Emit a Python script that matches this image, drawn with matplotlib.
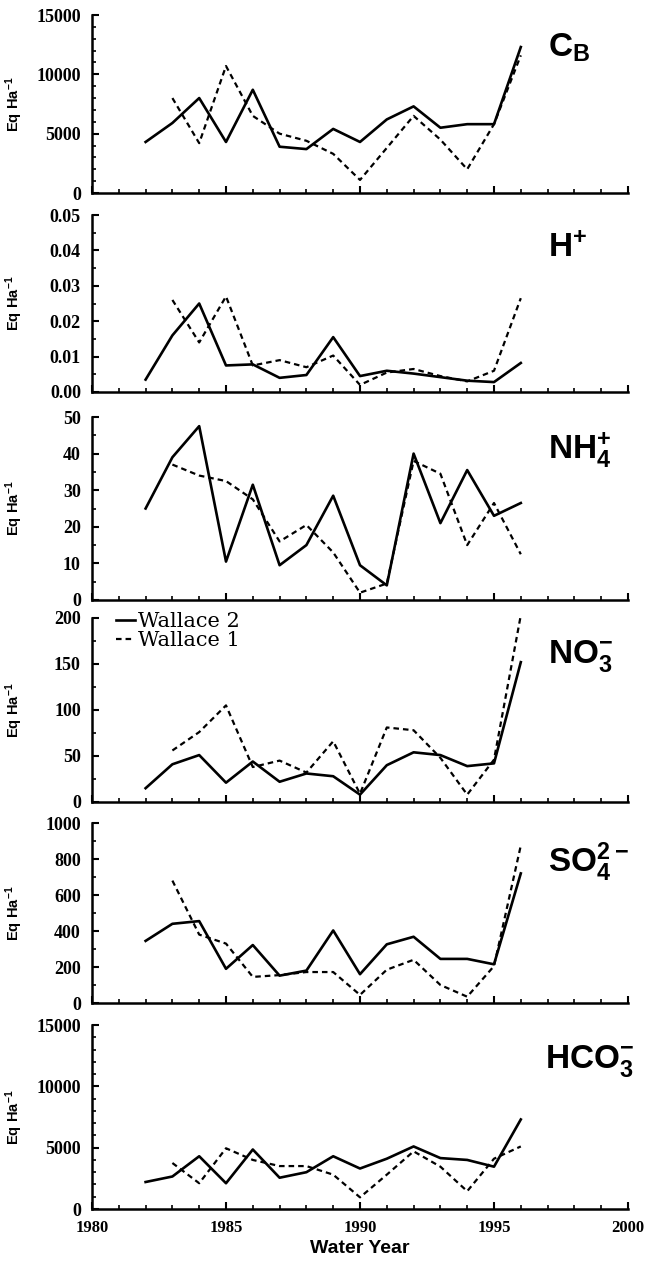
import numpy as np
import matplotlib.pyplot as plt
from matplotlib.ticker import MultipleLocator, FormatStrFormatter

plt.rcParams['mathtext.fontset'] = 'custom'
plt.rcParams['mathtext.rm'] = 'Liberation Sans'
plt.rcParams['mathtext.bf'] = 'Liberation Sans:bold'

# water years
years_w2 = [1982, 1983, 1984, 1985, 1986, 1987, 1988, 1989, 1990, 1991, 1992, 1993, 1994, 1995, 1996]
years_w1 = [1983, 1984, 1985, 1986, 1987, 1988, 1989, 1990, 1991, 1992, 1993, 1994, 1995, 1996]

# base cations
cb_w2 = [4300, 5900, 8000, 4300, 8700, 3900, 3700, 5400, 4300, 6200, 7300, 5500, 5800, 5800, 12300]
cb_w1 = [8000, 4200, 10700, 6500, 5000, 4400, 3300, 1100, 3800, 6500, 4500, 2000, 5800, 11600]

# H+
h_w2 = [0.0035, 0.016, 0.025, 0.0075, 0.0078, 0.004, 0.0048, 0.0155, 0.0045, 0.006, 0.0052, 0.0042, 0.0032, 0.0028, 0.0082]
h_w1 = [0.026, 0.014, 0.027, 0.0075, 0.009, 0.007, 0.0103, 0.002, 0.0055, 0.0065, 0.0045, 0.003, 0.006, 0.0265]

# NH4+
nh4_w2 = [25, 39, 47.5, 10.5, 31.5, 9.5, 15, 28.5, 9.5, 4, 40, 21, 35.5, 23, 26.5]
nh4_w1 = [37, 34, 32.5, 27.5, 16, 20.5, 13, 2, 4.5, 38, 34.5, 15, 26.5, 12.5]

# NO3-
no3_w2 = [15, 41, 51, 21, 44, 22, 31, 28, 8, 40, 54, 51, 39, 42, 152]
no3_w1 = [56, 76, 105, 38, 45, 32, 66, 9, 81, 78, 48, 8, 46, 203]

# SO4 2-
so4_w2 = [345, 440, 455, 190, 322, 152, 180, 403, 160, 326, 368, 245, 245, 215, 720]
so4_w1 = [680, 380, 330, 145, 155, 172, 172, 45, 185, 240, 100, 35, 205, 875]

# HCO3-
hco3_w2 = [2200, 2650, 4300, 2100, 4850, 2550, 3000, 4300, 3300, 4100, 5100, 4150, 4000, 3450, 7300]
hco3_w1 = [3750, 2100, 4950, 4000, 3500, 3500, 2800, 950, 2800, 4700, 3450, 1450, 4100, 5100]

labels = [r'$\mathbf{C_B}$', r'$\mathbf{H^{+}}$', r'$\mathbf{NH_4^{+}}$',
          r'$\mathbf{NO_3^{-}}$', r'$\mathbf{SO_4^{2-}}$', r'$\mathbf{HCO_3^{-}}$']
ymax = [15000, 0.05, 50, 200, 1000, 15000]
ymajor = [5000, 0.01, 10, 50, 200, 5000]
yminor = [1000, 0.005, 5, 25, 100, 1000]
yfmt = ['%d', '%.2f', '%d', '%d', '%d', '%d']
series = [(cb_w2, cb_w1), (h_w2, h_w1), (nh4_w2, nh4_w1),
          (no3_w2, no3_w1), (so4_w2, so4_w1), (hco3_w2, hco3_w1)]

# panel placement in pixels (top, bottom) and label baseline position in axes coords
W, H = 649, 1266
rows = [(15, 193), (215, 392), (417, 600), (618, 802), (823, 1003), (1025, 1209)]
label_xy = [(0.851, 0.764), (0.851, 0.763), (0.851, 0.77), (0.851, 0.755), (0.851, 0.728), (0.845, 0.766)]
left_px, right_px = 92, 628

fig = plt.figure(figsize=(W / 100, H / 100), dpi=100)
ytick_font = {'family': 'Liberation Serif', 'weight': 'bold', 'size': 13}
xtick_font = {'family': 'Liberation Serif', 'weight': 'bold', 'size': 12}

for i, (top, bot) in enumerate(rows):
    ax = fig.add_axes([left_px / W, 1 - bot / H, (right_px - left_px) / W, (bot - top) / H])
    w2, w1 = series[i]
    ax.plot(years_w2, w2, color='black', lw=1.9, label='Wallace 2', clip_on=False)
    ax.plot(years_w1, w1, color='black', lw=1.6, ls=(0, (2.5, 1.8)), label='Wallace 1', clip_on=False)
    ax.set_xlim(1980, 2000)
    ax.set_ylim(0, ymax[i])
    ax.xaxis.set_major_locator(MultipleLocator(5))
    ax.xaxis.set_minor_locator(MultipleLocator(1))
    ax.yaxis.set_major_locator(MultipleLocator(ymajor[i]))
    ax.yaxis.set_minor_locator(MultipleLocator(yminor[i]))
    ax.yaxis.set_major_formatter(FormatStrFormatter(yfmt[i]))
    for s in ['top', 'right']:
        ax.spines[s].set_visible(False)
    for s in ['left', 'bottom']:
        ax.spines[s].set_linewidth(1.8)
    ax.tick_params(which='major', direction='in', length=5, width=1.5, pad=8)
    ax.tick_params(which='minor', direction='in', length=3, width=1.2)
    for t in ax.get_yticklabels():
        t.set_fontproperties(ytick_font)
    if i < 5:
        ax.set_xticklabels([])
    else:
        for t in ax.get_xticklabels():
            t.set_fontproperties(xtick_font)
        ax.set_xlabel('Water Year', fontsize=14, fontweight='bold',
                      family='Liberation Sans', labelpad=3)
    ax.set_ylabel(r'$\mathbf{Eq\ Ha^{-1}}$', fontsize=10.5)
    ax.yaxis.set_label_coords(-0.125, 0.5)
    ax.text(label_xy[i][0], label_xy[i][1], labels[i], transform=ax.transAxes,
            fontsize=24, ha='left', va='baseline')
    if i == 3:
        ax.legend(loc='upper left', bbox_to_anchor=(0.045, 1.03), frameon=False,
                  prop={'family': 'DejaVu Serif', 'size': 15}, handlelength=0.9,
                  handletextpad=0.15, labelspacing=0.0, borderpad=0, borderaxespad=0)

fig.savefig('out.png', dpi=100)
